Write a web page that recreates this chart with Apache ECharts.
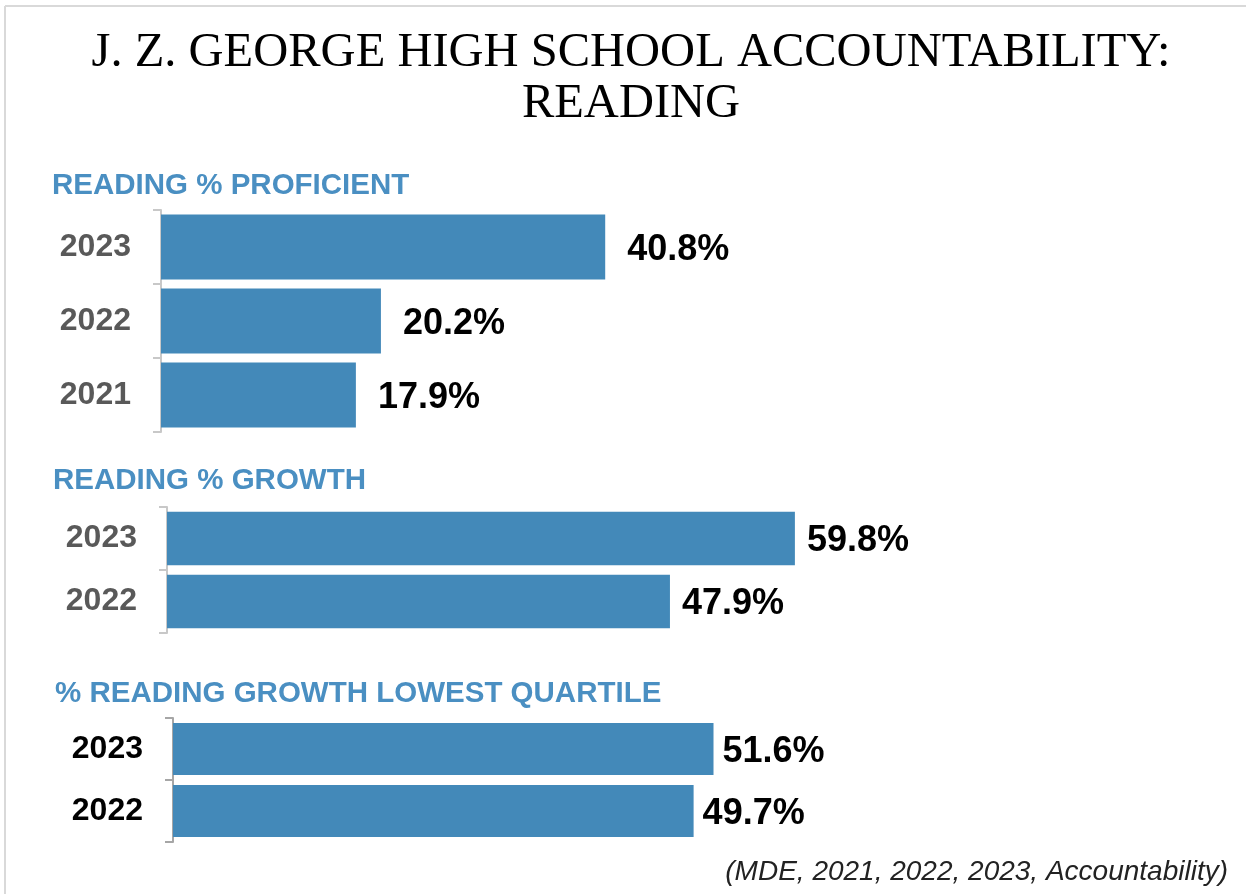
<!DOCTYPE html>
<html>
<head>
<meta charset="utf-8">
<script src="https://cdn.jsdelivr.net/npm/echarts@6/dist/echarts.min.js"></script>
<style>
html,body{margin:0;padding:0;background:#fff;}
#c{width:1246px;height:894px;}
</style>
</head>
<body>
<div id="c"></div>
<script>
// ---- data ----
const titleLines = ['J. Z. GEORGE HIGH SCHOOL ACCOUNTABILITY:', 'READING'];
const headings = ['READING % PROFICIENT', 'READING % GROWTH', '% READING GROWTH LOWEST QUARTILE'];
const proficientYears = ['2023', '2022', '2021'];
const proficientValues = [40.8, 20.2, 17.9];
const growthYears = ['2023', '2022'];
const growthValues = [59.8, 47.9];
const quartileYears = ['2023', '2022'];
const quartileValues = [51.6, 49.7];
const sourceNote = '(MDE, 2021, 2022, 2023, Accountability)';

// ---- layout ----
const BAR = '#4389b9';
const HEAD = '#4a8fc2';
const panels = [
  {years: proficientYears, values: proficientValues, left: 161, top: 210, height: 222, width: 871, gap: '12%', labelColor: '#595959', axisColor: '#c8c8c8', dist: 22},
  {years: growthYears, values: growthValues, left: 167, top: 507, height: 126, width: 840, gap: '15%', labelColor: '#595959', axisColor: '#c8c8c8', dist: 12},
  {years: quartileYears, values: quartileValues, left: 173, top: 718, height: 124, width: 838, gap: '16%', labelColor: '#000000', axisColor: '#a6a6a6', dist: 9}
];
const headPos = [[52, 186], [53, 481], [55, 694]];

const grid = [], xAxis = [], yAxis = [], series = [];
panels.forEach((p, i) => {
  grid.push({left: p.left, top: p.top, width: p.width, height: p.height});
  xAxis.push({gridIndex: i, type: 'value', min: 0, max: 80, show: false});
  yAxis.push({
    gridIndex: i, type: 'category', data: p.years, inverse: true,
    axisLine: {show: true, lineStyle: {color: p.axisColor, width: 2}},
    axisTick: {show: true, length: 8, lineStyle: {color: p.axisColor, width: 2}},
    axisLabel: {color: p.labelColor, fontFamily: 'Liberation Sans', fontWeight: 'bold', fontSize: 32, margin: 30},
    splitLine: {show: false}
  });
  series.push({
    type: 'bar', xAxisIndex: i, yAxisIndex: i, data: p.values,
    barCategoryGap: p.gap,
    itemStyle: {color: BAR},
    label: {show: true, position: 'right', distance: p.dist, offset: [0, 3], formatter: v => v.value.toFixed(1) + '%',
      color: '#000', fontFamily: 'Liberation Sans', fontWeight: 'bold', fontSize: 36},
    silent: true
  });
});

const graphic = [
  {type: 'line', shape: {x1: 5, y1: 6, x2: 1246, y2: 6}, style: {stroke: '#d9d9d9', lineWidth: 2}},
  {type: 'line', shape: {x1: 5, y1: 6, x2: 5, y2: 894}, style: {stroke: '#d9d9d9', lineWidth: 2}},
  {type: 'text', x: 631, y: 53, style: {text: titleLines[0], fill: '#000', font: '48.5px "Liberation Serif"', textAlign: 'center', textVerticalAlign: 'middle'}},
  {type: 'text', x: 631, y: 104, style: {text: titleLines[1], fill: '#000', font: '48.5px "Liberation Serif"', textAlign: 'center', textVerticalAlign: 'middle'}},
  {type: 'text', x: 1228, y: 872, style: {text: sourceNote, fill: '#222', font: 'italic 28px "Liberation Sans"', textAlign: 'right', textVerticalAlign: 'middle'}}
];
headings.forEach((h, i) => {
  graphic.push({type: 'text', x: headPos[i][0], y: headPos[i][1],
    style: {text: h, fill: HEAD, font: 'bold 29.5px "Liberation Sans"', textAlign: 'left', textVerticalAlign: 'middle'}});
});

const chart = echarts.init(document.getElementById('c'), null, {renderer: 'canvas'});
chart.setOption({
  animation: false,
  backgroundColor: '#fff',
  grid, xAxis, yAxis, series, graphic
});
</script>
</body>
</html>
